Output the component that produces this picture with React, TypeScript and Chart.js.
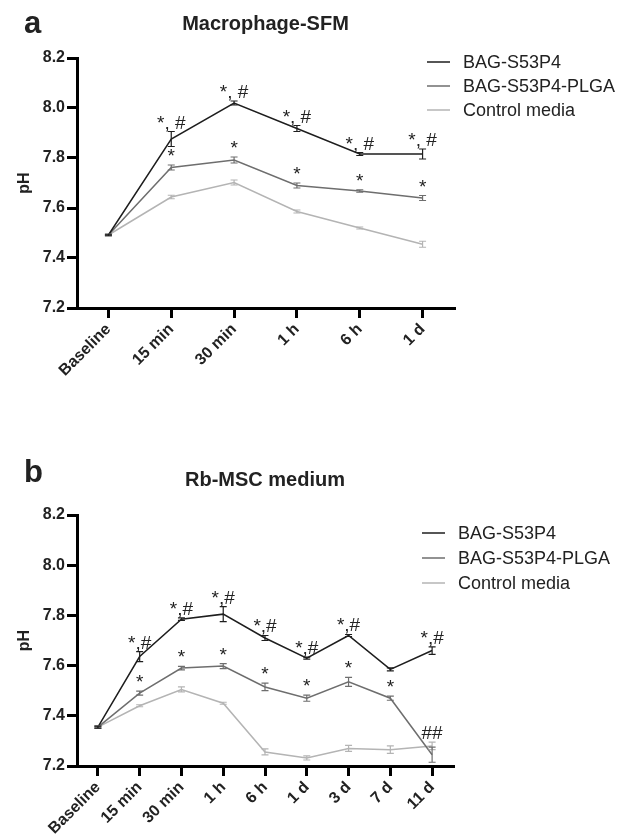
import React, { useEffect, useRef } from "react";
import { Chart, registerables } from "chart.js";
Chart.register(...registerables);

const FONT = "'Liberation Sans', Arial, Helvetica, sans-serif";
const INK = "#222222";

const seriesNames = ["BAG-S53P4", "BAG-S53P4-PLGA", "Control media"];
const seriesColors = ["#1e1e1e", "#6e6e6e", "#b4b4b4"];

const yTickValues = [7.2, 7.4, 7.6, 7.8, 8.0, 8.2];
const yTickLabels = ["7.2", "7.4", "7.6", "7.8", "8.0", "8.2"];

// Panel a: Macrophage-SFM
const categoriesA = ["Baseline", "15 min", "30 min", "1 h", "6 h", "1 d"];
const bagA = [7.492, 7.876, 8.02, 7.918, 7.816, 7.816];
const bagErrA = [0.003, 0.03, 0.008, 0.012, 0.006, 0.02];
const plgaA = [7.492, 7.762, 7.792, 7.69, 7.668, 7.64];
const plgaErrA = [0.003, 0.01, 0.012, 0.01, 0.005, 0.01];
const ctrlA = [7.492, 7.644, 7.702, 7.586, 7.52, 7.455];
const ctrlErrA = [0.003, 0.007, 0.01, 0.006, 0.004, 0.012];
const bagMarksA = ["", "*, #", "*, #", "*, #", "*, #", "*, #"];
const plgaMarksA = ["", "*", "*", "*", "*", "*"];
const ctrlMarksA = ["", "", "", "", "", ""];

// Panel b: Rb-MSC medium
const categoriesB = ["Baseline", "15 min", "30 min", "1 h", "6 h", "1 d", "3 d", "7 d", "11 d"];
const bagB = [7.355, 7.636, 7.785, 7.805, 7.71, 7.63, 7.72, 7.585, 7.66];
const bagErrB = [0.004, 0.02, 0.005, 0.03, 0.01, 0.004, 0.004, 0.006, 0.015];
const plgaB = [7.355, 7.49, 7.59, 7.598, 7.515, 7.47, 7.535, 7.47, 7.245];
const plgaErrB = [0.004, 0.008, 0.007, 0.01, 0.015, 0.012, 0.018, 0.008, 0.03];
const ctrlB = [7.355, 7.44, 7.505, 7.45, 7.256, 7.232, 7.27, 7.265, 7.28];
const ctrlErrB = [0.004, 0.004, 0.01, 0.004, 0.012, 0.008, 0.012, 0.015, 0.015];
const bagMarksB = ["", "*,#", "*,#", "*,#", "*,#", "*,#", "*,#", "", "*,#"];
const plgaMarksB = ["", "*", "*", "*", "*", "*", "*", "*", "##"];
const ctrlMarksB = ["", "", "", "", "", "", "", "", ""];

type PanelCfg = {
  letter: string;
  title: string;
  categories: string[];
  values: number[][];
  errs: number[][];
  marks: string[][];
  canvasTop: number;
  canvasHeight: number;
  areaTop: number;
  areaBottom: number;
  areaRight: number;
  letterBaseline: number;
  titleBaseline: number;
  legendRows: number[];
  legendX: number;
};

const panels: PanelCfg[] = [
  {
    letter: "a",
    title: "Macrophage-SFM",
    categories: categoriesA,
    values: [bagA, plgaA, ctrlA],
    errs: [bagErrA, plgaErrA, ctrlErrA],
    marks: [bagMarksA, plgaMarksA, ctrlMarksA],
    canvasTop: 0,
    canvasHeight: 400,
    areaTop: 58,
    areaBottom: 308,
    areaRight: 454,
    letterBaseline: 33,
    titleBaseline: 30,
    legendRows: [62, 86, 110],
    legendX: 427,
  },
  {
    letter: "b",
    title: "Rb-MSC medium",
    categories: categoriesB,
    values: [bagB, plgaB, ctrlB],
    errs: [bagErrB, plgaErrB, ctrlErrB],
    marks: [bagMarksB, plgaMarksB, ctrlMarksB],
    canvasTop: 440,
    canvasHeight: 396,
    areaTop: 75,
    areaBottom: 326,
    areaRight: 453,
    letterBaseline: 42,
    titleBaseline: 46,
    legendRows: [93, 118, 143],
    legendX: 422,
  },
];

function makeDecor(cfg: PanelCfg) {
  return {
    id: "decor",
    afterDatasetsDraw(chart: any) {
      const ctx = chart.ctx;
      const xs = chart.scales.x;
      const ys = chart.scales.y;
      // error bars
      for (let d = cfg.values.length - 1; d >= 0; d--) {
        const vals = cfg.values[d];
        const errs = cfg.errs[d];
        ctx.save();
        ctx.strokeStyle = seriesColors[d];
        ctx.lineWidth = 1.2;
        vals.forEach((v, i) => {
          const px = xs.getPixelForValue(i);
          const top = ys.getPixelForValue(v + errs[i]);
          const bot = ys.getPixelForValue(v - errs[i]);
          ctx.beginPath();
          ctx.moveTo(px, top);
          ctx.lineTo(px, bot);
          ctx.moveTo(px - 3.5, top);
          ctx.lineTo(px + 3.5, top);
          ctx.moveTo(px - 3.5, bot);
          ctx.lineTo(px + 3.5, bot);
          ctx.stroke();
        });
        ctx.restore();
      }
      // significance marks
      ctx.save();
      ctx.fillStyle = INK;
      ctx.font = `19px ${FONT}`;
      ctx.textAlign = "center";
      ctx.textBaseline = "alphabetic";
      cfg.marks.forEach((marks, d) => {
        marks.forEach((m, i) => {
          if (!m) return;
          let topVal = -Infinity;
          for (let k = d; k < cfg.values.length; k++) {
            topVal = Math.max(topVal, cfg.values[k][i] + cfg.errs[k][i]);
          }
          const px = xs.getPixelForValue(i);
          const py = ys.getPixelForValue(topVal) - 3;
          ctx.fillText(m, px, py);
        });
      });
      ctx.restore();
    },
    afterDraw(chart: any) {
      const ctx = chart.ctx;
      const area = chart.chartArea;
      ctx.save();
      // panel letter
      ctx.fillStyle = INK;
      ctx.font = `bold 31px ${FONT}`;
      ctx.textAlign = "left";
      ctx.textBaseline = "alphabetic";
      ctx.fillText(cfg.letter, 24, cfg.letterBaseline);
      // title
      ctx.font = `bold 20px ${FONT}`;
      ctx.textAlign = "center";
      ctx.fillText(cfg.title, (area.left + area.right) / 2, cfg.titleBaseline);
      // legend
      ctx.font = `18px ${FONT}`;
      ctx.textAlign = "left";
      ctx.textBaseline = "middle";
      seriesNames.forEach((name, i) => {
        const y = cfg.legendRows[i];
        ctx.strokeStyle = seriesColors[i];
        ctx.lineWidth = 1.5;
        ctx.beginPath();
        ctx.moveTo(cfg.legendX, y);
        ctx.lineTo(cfg.legendX + 23, y);
        ctx.stroke();
        ctx.fillStyle = INK;
        ctx.fillText(name, cfg.legendX + 36, y + 1);
      });
      ctx.restore();
    },
  };
}

function Panel({ cfg }: { cfg: PanelCfg }) {
  const ref = useRef<HTMLCanvasElement | null>(null);
  useEffect(() => {
    if (!ref.current) return;
    const xHeight = cfg.canvasHeight - cfg.areaBottom;
    const chart = new Chart(ref.current, {
      type: "line",
      data: {
        labels: cfg.categories,
        datasets: cfg.values.map((vals, d) => ({
          label: seriesNames[d],
          data: vals,
          borderColor: seriesColors[d],
          backgroundColor: seriesColors[d],
          borderWidth: 1.5,
          pointRadius: 0,
          pointHoverRadius: 0,
          tension: 0,
          fill: false,
        })),
      },
      options: {
        responsive: false,
        animation: false,
        events: [],
        layout: {
          padding: { top: cfg.areaTop, left: 0, right: 624 - cfg.areaRight, bottom: 0 },
        },
        plugins: {
          legend: { display: false },
          title: { display: false },
          tooltip: { enabled: false },
        },
        scales: {
          x: {
            type: "category",
            offset: true,
            grid: {
              display: true,
              drawOnChartArea: false,
              drawTicks: true,
              tickLength: 10,
              lineWidth: 3,
              color: "#000",
              offset: false,
            },
            border: { display: true, width: 3, color: "#000" },
            ticks: {
              font: { family: FONT, size: 16, weight: "bold" },
              color: INK,
              minRotation: 45,
              maxRotation: 45,
              padding: 2,
              autoSkip: false,
            },
            afterFit: (s: any) => {
              s.height = xHeight;
            },
          },
          y: {
            type: "linear",
            min: 7.2,
            max: 8.2,
            grid: {
              display: true,
              drawOnChartArea: false,
              drawTicks: true,
              tickLength: 10,
              lineWidth: 3,
              color: "#000",
            },
            border: { display: true, width: 3, color: "#000" },
            ticks: {
              font: { family: FONT, size: 16, weight: "bold" },
              color: INK,
              padding: 2,
              callback: (v: any) => {
                const idx = yTickValues.findIndex((t) => Math.abs(t - Number(v)) < 1e-6);
                return idx >= 0 ? yTickLabels[idx] : "";
              },
            },
            afterBuildTicks: (s: any) => {
              s.ticks = yTickValues.map((v) => ({ value: v }));
            },
            title: {
              display: true,
              text: "pH",
              font: { family: FONT, size: 16, weight: "bold" },
              color: INK,
              padding: { top: 15, bottom: 0 },
            },
            afterFit: (s: any) => {
              s.width = 77;
            },
          },
        },
      },
      plugins: [makeDecor(cfg)],
    } as any);
    return () => chart.destroy();
  }, [cfg]);
  return (
    <canvas
      ref={ref}
      width={624}
      height={cfg.canvasHeight}
      style={{ position: "absolute", left: 0, top: cfg.canvasTop, width: 624, height: cfg.canvasHeight }}
    />
  );
}

export default function App() {
  return (
    <div style={{ position: "absolute", left: 0, top: 0, width: 624, height: 836, background: "#fff" }}>
      {panels.map((p) => (
        <Panel key={p.letter} cfg={p} />
      ))}
    </div>
  );
}
